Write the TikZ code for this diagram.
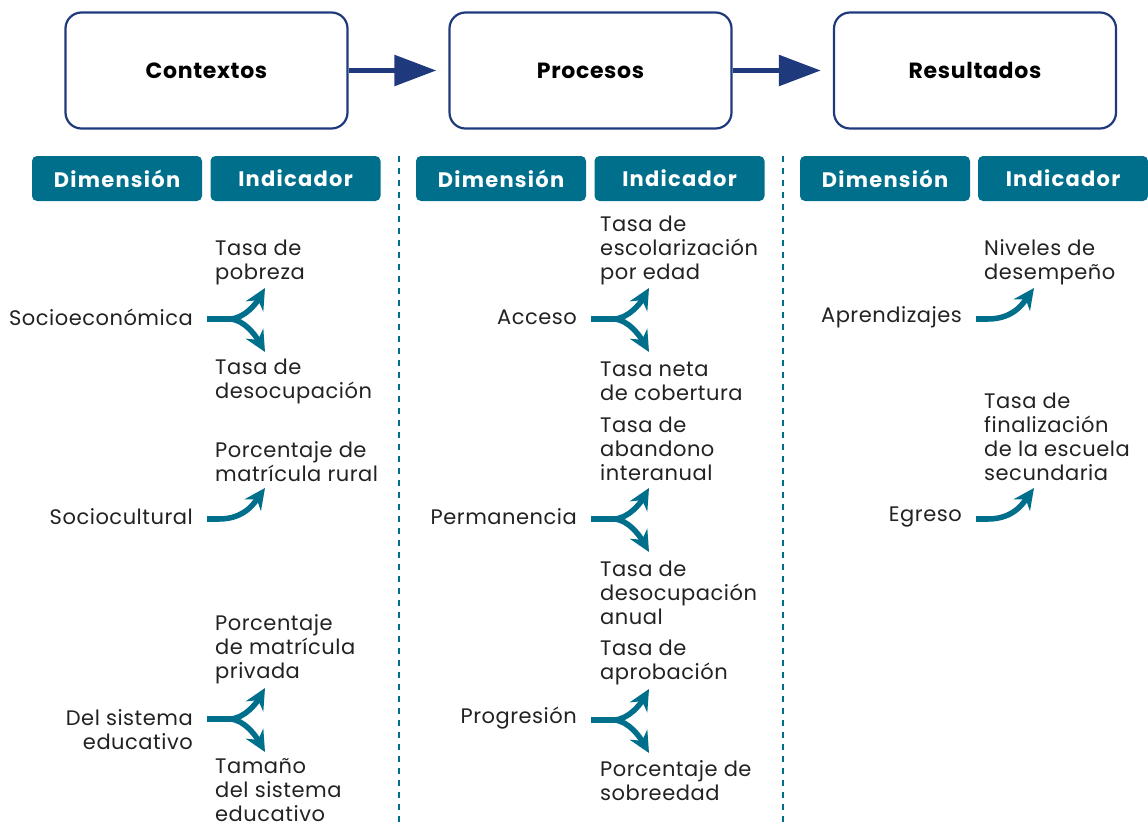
\documentclass[tikz,border=0pt]{standalone}
\usepackage{fontspec}
\setmainfont{Poppins}
\usetikzlibrary{arrows.meta, positioning, calc}

\definecolor{navy}{HTML}{1F3A7C}
\definecolor{petrol}{HTML}{006F8B}
\definecolor{ink}{HTML}{222222}

\begin{document}
\begin{tikzpicture}[
    x=1pt, y=-1pt,
    stage/.style={draw=navy, line width=2.2pt, rounded corners=16pt, minimum width=282pt, minimum height=116pt, font=\fontsize{22}{24}\selectfont\bfseries\addfontfeatures{LetterSpace=3}, text=black},
    head/.style={fill=petrol, rounded corners=5pt, minimum width=170pt, minimum height=45pt, font=\fontsize{21}{24}\selectfont\bfseries\addfontfeatures{LetterSpace=6}, text=white, inner sep=0pt},
    dimen/.style={anchor=east, align=right, inner sep=0pt, font=\fontsize{21}{24}\selectfont\addfontfeatures{LetterSpace=2.5}, text=ink},
    indic/.style={anchor=west, align=left, inner sep=0pt, font=\fontsize{21}{24}\selectfont\addfontfeatures{LetterSpace=2.5}, text=ink},
    link/.style={petrol, line width=5.5pt},
    tip/.style={petrol, line width=5.5pt, -{Stealth[length=21pt, width=20pt, inset=7pt]}},
    bigarrow/.style={navy, line width=5.5pt, shorten >=12pt, -{Triangle[length=42pt, width=30pt]}},
    sep/.style={petrol, line width=1.6pt, dash pattern=on 6pt off 6pt}
]
    \useasboundingbox (0,0) rectangle (1148,825);

    % stages
    \node[stage] (ctx) at (206.5,70.5) {Contextos};
    \node[stage] (proc) at (590.5,70.5) {Procesos};
    \node[stage] (res) at (975,70.5) {Resultados};
    \draw[bigarrow] (ctx.east) -- (proc.west);
    \draw[bigarrow] (proc.east) -- (res.west);

    % headers
    \node[head] (dimA) at (117,178.5) {Dimensión};
    \node[head] (indA) at (295.5,178.5) {Indicador};
    \node[head] (dimB) at (501,178.5) {Dimensión};
    \node[head] (indB) at (679.5,178.5) {Indicador};
    \node[head] (dimC) at (885,178.5) {Dimensión};
    \node[head] (indC) at (1063,178.5) {Indicador};

    % separators
    \coordinate (sepA) at (399,156);
    \coordinate (sepB) at (783,156);
    \draw[sep] (sepA) -- (sepA |- 0,825);
    \draw[sep] (sepB) -- (sepB |- 0,825);

    % Contextos
    \begin{scope}
        \node[dimen] (soc) at (193,317) {Socioeconómica};
        \node[dimen] (cul) at (193,517) {Sociocultural};
        \node[dimen] (sis) at (193,730) {Del sistema\\educativo};
        \node[indic] (pob) at (215,262) {Tasa de\\pobreza};
        \node[indic] (deso) at (215,381) {Tasa de\\desocupación};
        \node[indic] (rur) at (215,462) {Porcentaje de\\matrícula rural};
        \node[indic] (priv) at (215,649) {Porcentaje\\de matrícula\\privada};
        \node[indic] (tam) at (215,790) {Tamaño\\del sistema\\educativo};

        \draw[link] ([xshift=14pt,yshift=-2pt]soc.east) -- ++(22,0) coordinate (socF);
        \coordinate (socU) at ($(socF)+(36,-31)$);
        \coordinate (socD) at ($(socF)+(36,33)$);
        \draw[tip] (socF) .. controls +(16,0) and +(-8,14) .. (socU);
        \draw[tip] (socF) .. controls +(16,0) and +(-8,-14) .. (socD);

        \draw[link] ([xshift=14pt,yshift=-2pt]cul.east) -- ++(12,0) coordinate (culF);
        \coordinate (culU) at ($(culF)+(46,-31)$);
        \draw[tip] (culF) .. controls +(26,0) and +(-10,14) .. (culU);

        \draw[link] ([xshift=14pt,yshift=11pt]sis.east) -- ++(22,0) coordinate (sisF);
        \coordinate (sisU) at ($(sisF)+(36,-31)$);
        \coordinate (sisD) at ($(sisF)+(36,33)$);
        \draw[tip] (sisF) .. controls +(16,0) and +(-8,14) .. (sisU);
        \draw[tip] (sisF) .. controls +(16,0) and +(-8,-14) .. (sisD);
    \end{scope}

    % Procesos
    \begin{scope}
        \node[dimen] (acc) at (577,317) {Acceso};
        \node[dimen] (perm) at (577,517) {Permanencia};
        \node[dimen] (prog) at (577,718) {Progresión};
        \node[indic] (esc) at (600,250) {Tasa de\\escolarización\\por edad};
        \node[indic] (cob) at (600,381) {Tasa neta\\de cobertura};
        \node[indic] (aban) at (600,449) {Tasa de\\abandono\\interanual};
        \node[indic] (anual) at (600,593) {Tasa de\\desocupación\\anual};
        \node[indic] (apro) at (600,662) {Tasa de\\aprobación};
        \node[indic] (sobre) at (600,781) {Porcentaje de\\sobreedad};

        \draw[link] ([xshift=14pt,yshift=-2pt]acc.east) -- ++(22,0) coordinate (accF);
        \coordinate (accU) at ($(accF)+(36,-31)$);
        \coordinate (accD) at ($(accF)+(36,33)$);
        \draw[tip] (accF) .. controls +(16,0) and +(-8,14) .. (accU);
        \draw[tip] (accF) .. controls +(16,0) and +(-8,-14) .. (accD);

        \draw[link] ([xshift=14pt,yshift=-2pt]perm.east) -- ++(22,0) coordinate (permF);
        \coordinate (permU) at ($(permF)+(36,-31)$);
        \coordinate (permD) at ($(permF)+(36,33)$);
        \draw[tip] (permF) .. controls +(16,0) and +(-8,14) .. (permU);
        \draw[tip] (permF) .. controls +(16,0) and +(-8,-14) .. (permD);

        \draw[link] ([xshift=14pt,yshift=-2pt]prog.east) -- ++(22,0) coordinate (progF);
        \coordinate (progU) at ($(progF)+(36,-31)$);
        \coordinate (progD) at ($(progF)+(36,33)$);
        \draw[tip] (progF) .. controls +(16,0) and +(-8,14) .. (progU);
        \draw[tip] (progF) .. controls +(16,0) and +(-8,-14) .. (progD);
    \end{scope}

    % Resultados
    \begin{scope}
        \node[dimen] (apr) at (962,317) {Aprendizajes};
        \node[dimen] (egr) at (962,517) {Egreso};
        \node[indic] (niv) at (984,262) {Niveles de\\desempeño};
        \node[indic] (fin) at (984,437) {Tasa de\\finalización\\de la escuela\\secundaria};

        \draw[link] ([xshift=14pt,yshift=-2pt]apr.east) -- ++(12,0) coordinate (aprF);
        \coordinate (aprU) at ($(aprF)+(46,-31)$);
        \draw[tip] (aprF) .. controls +(26,0) and +(-10,14) .. (aprU);

        \draw[link] ([xshift=14pt,yshift=-2pt]egr.east) -- ++(12,0) coordinate (egrF);
        \coordinate (egrU) at ($(egrF)+(46,-31)$);
        \draw[tip] (egrF) .. controls +(26,0) and +(-10,14) .. (egrU);
    \end{scope}
\end{tikzpicture}
\end{document}
